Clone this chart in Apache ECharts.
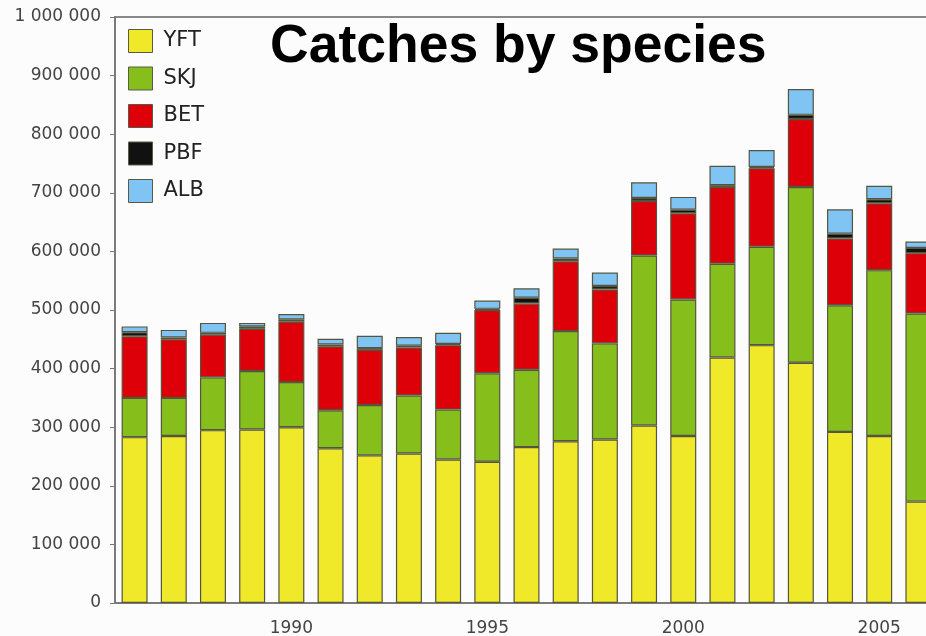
<!DOCTYPE html>
<html>
<head>
<meta charset="utf-8">
<script src="https://cdn.jsdelivr.net/npm/echarts@6/dist/echarts.min.js"></script>
<style>
html,body{margin:0;padding:0;background:#fcfcfc;}
#chart{width:926px;height:636px;}
</style>
</head>
<body>
<div id="chart"></div>
<script>
const years = ['1986','1987','1988','1989','1990','1991','1992','1993','1994','1995','1996','1997','1998','1999','2000','2001','2002','2003','2004','2005','2006'];
const yft = [283000,285000,295000,296000,300000,264000,252000,255000,245000,241000,266000,276000,279000,303000,285000,419000,440000,410000,292000,285000,173000];
const skj = [67000,65000,90000,100000,77000,65000,86000,99000,85000,151000,132000,188000,164000,290000,233000,160000,168000,300000,216000,283000,321000];
const bet = [105000,100000,73000,72000,103000,109000,94000,82000,110000,108000,113000,119000,92000,93000,147000,131000,134000,116000,114000,114000,103000];
const pbf = [7000,3000,3000,4000,4000,3000,3000,3000,2000,2000,10000,5000,6000,5000,6000,3000,2000,7000,8000,7000,9000];
const alb = [10000,13000,17000,6000,9000,10000,21000,15000,19000,14000,16000,17000,23000,27000,22000,33000,29000,44000,42000,23000,11000];
const seriesNames = ['YFT','SKJ','BET','PBF','ALB'];
const seriesColors = ['#efe92a','#86be1c','#dd0008','#111111','#80c4f4'];
const seriesData = [yft, skj, bet, pbf, alb];

const chart = echarts.init(document.getElementById('chart'));
const fmt = v => String(v).replace(/\B(?=(\d{3})+(?!\d))/g, ' ');

chart.setOption({
  backgroundColor: '#fcfcfc',
  animation: false,
  title: {
    text: 'Catches by species',
    left: 265,
    top: 15,
    textStyle: { fontFamily: 'Liberation Sans', fontWeight: 'bold', fontSize: 53.5, color: '#000' }
  },
  legend: {
    orient: 'vertical',
    left: 128,
    top: 29,
    padding: 0,
    icon: 'rect',
    itemWidth: 24,
    itemHeight: 23,
    itemGap: 13.5,
    data: seriesNames,
    textStyle: { fontFamily: 'DejaVu Sans', fontSize: 21, color: '#222', padding: [0,0,0,6] },
    itemStyle: { borderColor: '#5a5a48', borderWidth: 1 }
  },
  grid: {
    left: 115,
    top: 17,
    width: 823,
    height: 586,
    outerBoundsMode: 'none',
    containLabel: false,
    show: true,
    borderColor: '#888',
    borderWidth: 2,
    backgroundColor: 'transparent'
  },
  xAxis: {
    type: 'category',
    data: years,
    boundaryGap: true,
    axisLine: { lineStyle: { color: '#777', width: 1.5 } },
    axisTick: { alignWithLabel: true, interval: 0, length: 7, lineStyle: { color: '#777' } },
    axisLabel: {
      interval: (i, v) => Number(v) % 5 === 0,
      margin: 17,
      fontFamily: 'DejaVu Sans', fontSize: 17, color: '#444'
    }
  },
  yAxis: {
    type: 'value',
    min: 0,
    max: 1000000,
    interval: 100000,
    splitLine: { show: false },
    axisLine: { show: true, lineStyle: { color: '#777', width: 1.5 } },
    axisTick: { show: true, length: 5, lineStyle: { color: '#777' } },
    axisLabel: {
      formatter: fmt,
      margin: 14,
      fontFamily: 'DejaVu Sans', fontSize: 17, color: '#444'
    }
  },
  series: seriesNames.map((n, i) => ({
    name: n,
    type: 'bar',
    stack: 'total',
    barWidth: 26,
    data: seriesData[i],
    itemStyle: { color: seriesColors[i], borderColor: '#55553f', borderWidth: 1.2 }
  }))
});
</script>
</body>
</html>
